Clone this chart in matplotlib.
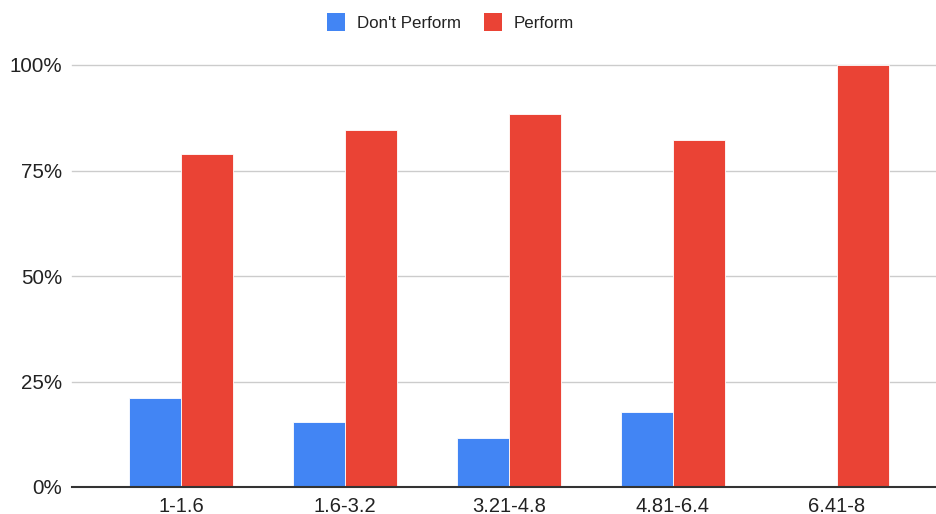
import numpy as np
import matplotlib.pyplot as plt
from matplotlib.patches import Patch

categories = ['1-1.6', '1.6-3.2', '3.21-4.8', '4.81-6.4', '6.41-8']
dont_perform = [0.211, 0.154, 0.116, 0.178, 0.0]
perform = [0.789, 0.846, 0.884, 0.822, 1.0]
yticks = [0, 0.25, 0.5, 0.75, 1.0]
ytick_labels = ['0%', '25%', '50%', '75%', '100%']

BLUE = '#4285F4'
RED = '#EA4335'

plt.rcParams['font.family'] = ['Liberation Sans', 'DejaVu Sans']

fig = plt.figure(figsize=(9.37, 5.14), dpi=100)
ax = fig.add_axes([72 / 937, 1 - 487 / 514, 1 - 72 / 937, (487 - 65) / 514])

x = np.arange(len(categories))
w = 0.317
ax.bar(x - w / 2, dont_perform, w, color=BLUE, edgecolor='white', linewidth=0.6, zorder=3)
ax.bar(x + w / 2, perform, w, color=RED, edgecolor='white', linewidth=0.6, zorder=3)

ax.set_xlim(-0.665, 4.61)
ax.set_ylim(0, 1)
ax.set_xticks(x)
ax.set_xticklabels(categories, fontsize=14.5, color='#222222')
ax.set_yticks(yticks)
ax.set_yticklabels(ytick_labels, fontsize=14.8, color='#222222')
ax.tick_params(length=0, pad=7)
ax.tick_params(axis='y', pad=7)

for yv in yticks[1:]:
    ax.axhline(yv, color='#cccccc', linewidth=1, zorder=1, clip_on=False)
for s in ['top', 'right', 'left']:
    ax.spines[s].set_visible(False)
ax.spines['bottom'].set_color('#333333')
ax.spines['bottom'].set_linewidth(1.5)
ax.spines['bottom'].set_zorder(4)

handles = [Patch(facecolor=BLUE, edgecolor='none'), Patch(facecolor=RED, edgecolor='none')]
leg = fig.legend(handles, ["Don't Perform", 'Perform'], loc='center left',
                 bbox_to_anchor=(327 / 937, 1 - 22 / 514),
                 ncol=2, frameon=False, fontsize=12.2, handlelength=1.05, handleheight=1.25,
                 handletextpad=0.7, columnspacing=1.4, borderpad=0, borderaxespad=0)
for t in leg.get_texts():
    t.set_color('#222222')

fig.savefig('out.png', dpi=100)
